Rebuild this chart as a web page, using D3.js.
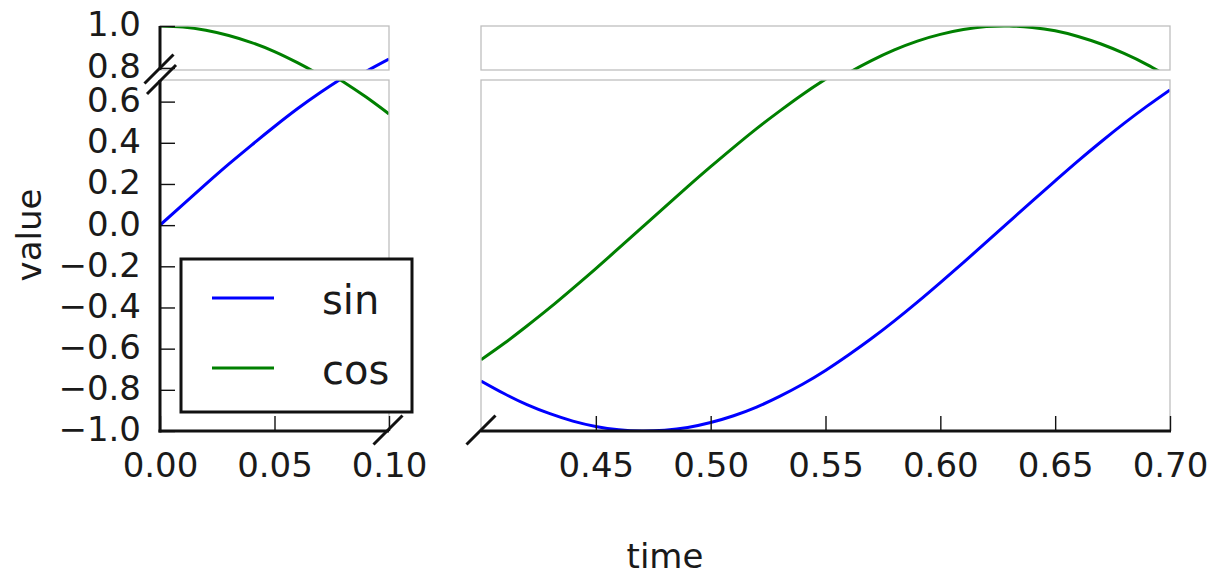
<!DOCTYPE html>
<html>
<head>
<meta charset="utf-8">
<script src="https://cdn.jsdelivr.net/npm/d3@7"></script>
<style>
  html, body { margin: 0; padding: 0; background: #fff; }
  svg { display: block; font-family: "DejaVu Sans", sans-serif; }
</style>
</head>
<body>
<svg id="chart" width="1224" height="577"></svg>
<script>
// ---- data ----
const tLeft   = [0.00, 0.01, 0.02, 0.03, 0.04, 0.05, 0.06, 0.07, 0.08, 0.09, 0.10];
const sinLeft = [0.000, 0.100, 0.199, 0.296, 0.389, 0.479, 0.565, 0.644, 0.717, 0.783, 0.842];
const cosLeft = [1.000, 0.995, 0.980, 0.955, 0.921, 0.878, 0.825, 0.765, 0.697, 0.622, 0.540];

const tRight   = [0.40, 0.41, 0.42, 0.43, 0.44, 0.45, 0.46, 0.47, 0.48, 0.49, 0.50,
                  0.51, 0.52, 0.53, 0.54, 0.55, 0.56, 0.57, 0.58, 0.59, 0.60,
                  0.61, 0.62, 0.63, 0.64, 0.65, 0.66, 0.67, 0.68, 0.69, 0.70];
const sinRight = [-0.757, -0.818, -0.872, -0.916, -0.952, -0.978, -0.994, -1.000, -0.996, -0.983, -0.959,
                  -0.926, -0.884, -0.832, -0.773, -0.706, -0.631, -0.551, -0.465, -0.374, -0.279,
                  -0.182, -0.083, 0.017, 0.117, 0.215, 0.312, 0.405, 0.494, 0.578, 0.657];
const cosRight = [-0.654, -0.575, -0.490, -0.401, -0.307, -0.211, -0.112, -0.012, 0.088, 0.187, 0.284,
                  0.378, 0.469, 0.554, 0.635, 0.709, 0.776, 0.835, 0.886, 0.928, 0.960,
                  0.983, 0.997, 1.000, 0.993, 0.977, 0.950, 0.914, 0.869, 0.816, 0.754];

const seriesNames = ["sin", "cos"];
const seriesColors = ["#0000ff", "#008000"];

const xTicksLeft  = [0.00, 0.05, 0.10];
const xTicksRight = [0.45, 0.50, 0.55, 0.60, 0.65, 0.70];
const yTicksBottom = [-1.0, -0.8, -0.6, -0.4, -0.2, 0.0, 0.2, 0.4, 0.6];
const yTicksTop = [0.8, 1.0];

const xLabel = "time";
const yLabel = "value";

// ---- layout ----
const svg = d3.select("#chart");
const FONT = 34;
const TICK = 15;
const GRAY = "#bfbfbf";
const INK = "#1a1a1a";
const LW = 3;

const colL = {x0: 160, x1: 389, domain: [0.0, 0.1]};
const colR = {x0: 481, x1: 1170, domain: [0.4, 0.7]};
const rowT = {y0: 26, y1: 70, domain: [0.79, 1.0]};
const rowB = {y0: 80, y1: 431, domain: [-1.0, 0.705]};

const xL = d3.scaleLinear().domain(colL.domain).range([colL.x0, colL.x1]);
const xR = d3.scaleLinear().domain(colR.domain).range([colR.x0, colR.x1]);
const yT = d3.scaleLinear().domain(rowT.domain).range([rowT.y1, rowT.y0]);
const yB = d3.scaleLinear().domain(rowB.domain).range([rowB.y1, rowB.y0]);

const leftData = [sinLeft, cosLeft].map(v => tLeft.map((t, i) => ({t, v: v[i]})));
const rightData = [sinRight, cosRight].map(v => tRight.map((t, i) => ({t, v: v[i]})));

const panels = [
  {id: "tl", col: colL, row: rowT, x: xL, y: yT, data: leftData},
  {id: "bl", col: colL, row: rowB, x: xL, y: yB, data: leftData},
  {id: "tr", col: colR, row: rowT, x: xR, y: yT, data: rightData},
  {id: "br", col: colR, row: rowB, x: xR, y: yB, data: rightData},
];

const defs = svg.append("defs");
panels.forEach(p => {
  defs.append("clipPath").attr("id", "clip-" + p.id)
    .append("rect")
    .attr("x", p.col.x0).attr("y", p.row.y0)
    .attr("width", p.col.x1 - p.col.x0).attr("height", p.row.y1 - p.row.y0);
});

panels.forEach(p => {
  const g = svg.append("g");
  const line = d3.line().x(d => p.x(d.t)).y(d => p.y(d.v)).curve(d3.curveNatural);
  g.append("g").attr("clip-path", `url(#clip-${p.id})`)
    .selectAll("path").data(p.data).join("path")
    .attr("d", line)
    .attr("fill", "none")
    .attr("stroke", (d, i) => seriesColors[i])
    .attr("stroke-width", LW);
  g.append("rect")
    .attr("x", p.col.x0).attr("y", p.row.y0)
    .attr("width", p.col.x1 - p.col.x0).attr("height", p.row.y1 - p.row.y0)
    .attr("fill", "none").attr("stroke", GRAY).attr("stroke-width", 1.3);
});

// black spines
function blackLine(x1, y1, x2, y2, w = 3) {
  svg.append("line").attr("x1", x1).attr("y1", y1).attr("x2", x2).attr("y2", y2)
    .attr("stroke", "#111").attr("stroke-width", w).attr("stroke-linecap", "butt");
}
blackLine(colL.x0, rowT.y0, colL.x0, rowT.y1);
blackLine(colL.x0, rowB.y0, colL.x0, rowB.y1 + 1.5);
blackLine(colL.x0 - 1.5, rowB.y1, colL.x1, rowB.y1);
blackLine(colR.x0, rowB.y1, colR.x1 + 1, rowB.y1);

// y axes (inward ticks)
const yTickFmt = d3.format(".1f");
function yAxis(scale, ticks) {
  const g = svg.append("g").attr("transform", `translate(${colL.x0},0)`)
    .call(d3.axisRight(scale).tickValues(ticks).tickSize(TICK).tickFormat(yTickFmt));
  g.select(".domain").remove();
  g.selectAll(".tick line").attr("stroke", "#111").attr("stroke-width", 1.4);
  g.selectAll(".tick text")
    .attr("x", -19).attr("dy", "0.29em").attr("text-anchor", "end")
    .attr("fill", INK).style("font-size", FONT + "px")
    .style("font-family", "DejaVu Sans, sans-serif");
}
yAxis(yT, yTicksTop);
yAxis(yB, yTicksBottom);

// x axes (inward ticks)
const xTickFmt = d3.format(".2f");
function xAxis(scale, ticks) {
  const g = svg.append("g").attr("transform", `translate(0,${rowB.y1})`)
    .call(d3.axisTop(scale).tickValues(ticks).tickSize(TICK).tickFormat(xTickFmt));
  g.select(".domain").remove();
  g.selectAll(".tick line").attr("stroke", "#111").attr("stroke-width", 1.4);
  g.selectAll(".tick text")
    .attr("y", 46).attr("dy", 0).attr("text-anchor", "middle")
    .attr("fill", INK).style("font-size", FONT + "px")
    .style("font-family", "DejaVu Sans, sans-serif");
}
xAxis(xL, xTicksLeft);
xAxis(xR, xTicksRight);

// break marks
const D = 14.5;
function slash(cx, cy) { blackLine(cx - D, cy + D, cx + D, cy - D, 3); }
slash(colL.x0 - 1, rowT.y1 - 1);
slash(colL.x0 + 1.5, rowB.y0 - 0.5);
slash(colL.x1 - 1, rowB.y1 - 1);
slash(colR.x0, rowB.y1 - 1);

// axis labels
svg.append("text").attr("x", (colL.x0 + colR.x1) / 2).attr("y", 568)
  .attr("text-anchor", "middle").attr("fill", INK)
  .style("font-size", FONT + "px").text(xLabel);
svg.append("text")
  .attr("transform", `translate(41,235) rotate(-90)`)
  .attr("text-anchor", "middle").attr("fill", INK)
  .style("font-size", FONT + "px").text(yLabel);

// legend
const lg = svg.append("g");
lg.append("rect").attr("x", 181).attr("y", 259).attr("width", 231).attr("height", 153)
  .attr("fill", "#fff").attr("stroke", "#111").attr("stroke-width", 3);
const legY = [298, 368];
seriesNames.forEach((name, i) => {
  lg.append("line").attr("x1", 212).attr("x2", 274).attr("y1", legY[i]).attr("y2", legY[i])
    .attr("stroke", seriesColors[i]).attr("stroke-width", LW);
  lg.append("text").attr("x", 322).attr("y", legY[i] + 16)
    .attr("fill", INK).style("font-size", "40px").text(name);
});
</script>
</body>
</html>
